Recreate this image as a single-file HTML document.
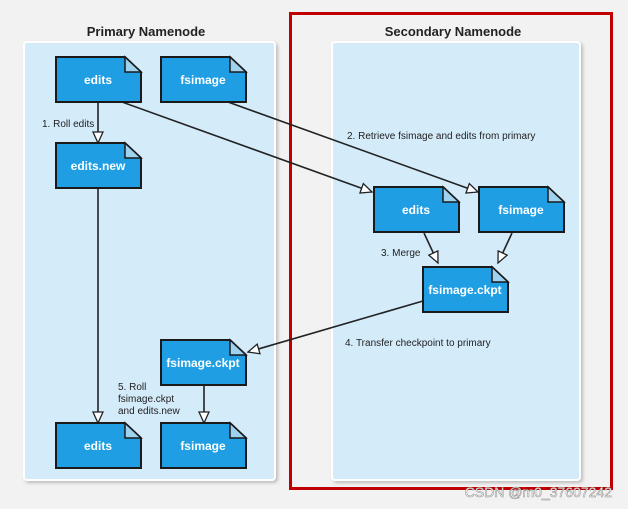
<!DOCTYPE html><html><head><style>body{margin:0;background:#f2f2f2}svg{display:block}text{font-family:"Liberation Sans",sans-serif}</style></head><body>
<svg width="628" height="509" viewBox="0 0 628 509">
<defs>
<filter id="s"><feDropShadow dx="2" dy="2" stdDeviation="1.5" flood-color="#999" flood-opacity="0.6"/></filter>
<marker id="a" markerWidth="14" markerHeight="12" refX="12" refY="6" orient="auto" markerUnits="userSpaceOnUse"><path d="M1,1 L12,6 L1,11 Z" fill="#fff" stroke="#222" stroke-width="1.3"/></marker>
<g id="d"><path d="M0,0 H69 L85,15 V45 H0 Z" fill="#1f9ee3" stroke="#1a1a1a" stroke-width="2"/><path d="M69,0 V15 H85 Z" fill="#9fd2ee" stroke="#1a1a1a" stroke-width="1.5"/></g>
</defs>
<rect x="0" y="0" width="628" height="509" fill="#f2f2f2"/>
<rect x="24" y="42" width="251" height="438" fill="#d4ebfa" stroke="#fff" stroke-width="2" filter="url(#s)" rx="3"/>
<rect x="332" y="42" width="248" height="438" fill="#d4ebfa" stroke="#fff" stroke-width="2" filter="url(#s)" rx="3"/>
<rect x="290.5" y="13.5" width="321" height="475" fill="none" stroke="#c00000" stroke-width="3"/>
<text x="146" y="36" font-size="13" font-weight="bold" text-anchor="middle" fill="#222">Primary Namenode</text>
<text x="453" y="36" font-size="13" font-weight="bold" text-anchor="middle" fill="#222">Secondary Namenode</text>
<g stroke="#222" stroke-width="1.6" fill="none">
<line x1="98" y1="102" x2="98" y2="143" marker-end="url(#a)"/>
<line x1="98" y1="188" x2="98" y2="423" marker-end="url(#a)"/>
<line x1="122" y1="102" x2="372" y2="192" marker-end="url(#a)"/>
<line x1="228" y1="102" x2="478" y2="192" marker-end="url(#a)"/>
<line x1="424" y1="233" x2="438" y2="263" marker-end="url(#a)"/>
<line x1="512" y1="233" x2="498" y2="263" marker-end="url(#a)"/>
<line x1="423" y1="301" x2="248" y2="352" marker-end="url(#a)"/>
<line x1="204" y1="385" x2="204" y2="423" marker-end="url(#a)"/>
</g>
<use href="#d" x="56" y="57"/><use href="#d" x="161" y="57"/><use href="#d" x="56" y="143"/>
<use href="#d" x="374" y="187"/><use href="#d" x="479" y="187"/><use href="#d" x="423" y="267"/>
<use href="#d" x="161" y="340"/><use href="#d" x="56" y="423"/><use href="#d" x="161" y="423"/>
<g fill="#fff" font-size="12" font-weight="bold" text-anchor="middle">
<text x="98" y="84">edits</text><text x="203" y="84">fsimage</text><text x="98" y="170">edits.new</text>
<text x="416" y="214">edits</text><text x="521" y="214">fsimage</text><text x="465" y="294">fsimage.ckpt</text>
<text x="203" y="367">fsimage.ckpt</text><text x="98" y="450">edits</text><text x="203" y="450">fsimage</text>
</g>
<g fill="#222" font-size="10">
<text x="42" y="127">1. Roll edits</text>
<text x="347" y="139">2. Retrieve fsimage and edits from primary</text>
<text x="381" y="256">3. Merge</text>
<text x="345" y="346">4. Transfer checkpoint to primary</text>
<text x="118" y="390">5. Roll</text><text x="118" y="402">fsimage.ckpt</text><text x="118" y="414">and edits.new</text>
</g>
<text x="612" y="497" font-size="14" text-anchor="end" fill="#fff" stroke="#999" stroke-width="0.6">CSDN @m0_37607242</text>
</svg></body></html>
